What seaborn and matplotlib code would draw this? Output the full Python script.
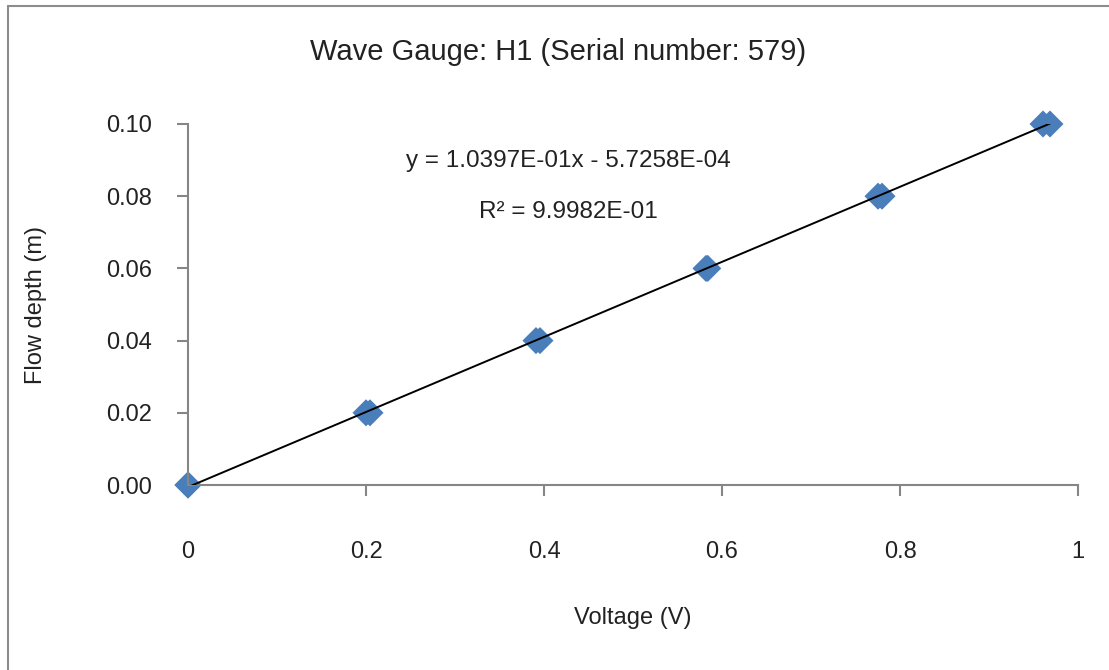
import numpy as np
import pandas as pd
import matplotlib
matplotlib.use("Agg")
import matplotlib.pyplot as plt
from matplotlib.lines import Line2D
import seaborn as sns

# Calibration readings for wave gauge H1 (two runs per depth)
voltage = [0.000, 0.000, 0.200, 0.2045, 0.391, 0.3955, 0.582, 0.584,
           0.7753, 0.7798, 0.9607, 0.9685]
flow_depth = [0.00, 0.00, 0.02, 0.02, 0.04, 0.04, 0.06, 0.06,
              0.08, 0.08, 0.10, 0.10]

# Linear trendline coefficients
slope = 1.0397e-01
intercept = -5.7258e-04
r_squared = 9.9982e-01

x_ticks = [0, 0.2, 0.4, 0.6, 0.8, 1.0]
x_tick_labels = ["0", "0.2", "0.4", "0.6", "0.8", "1"]
y_ticks = [0.00, 0.02, 0.04, 0.06, 0.08, 0.10]
y_tick_labels = ["0.00", "0.02", "0.04", "0.06", "0.08", "0.10"]

sns.set_theme(style="white")
plt.rcParams["font.family"] = ["Liberation Sans", "DejaVu Sans"]

W, H = 1109, 670
fig = plt.figure(figsize=(W / 100, H / 100), dpi=100)
ax = fig.add_axes([188 / W, 1 - 485 / H, (1078 - 188) / W, (485 - 124) / H])

df = pd.DataFrame({"Voltage": voltage, "Depth": flow_depth})

# Fitted line from the stated coefficients
xl = np.array([0.0, max(voltage)])
fit_df = pd.DataFrame({"Voltage": xl, "Depth": slope * xl + intercept})
sns.lineplot(data=fit_df, x="Voltage", y="Depth", ax=ax, color="black",
             linewidth=1.4, zorder=3)

sns.scatterplot(data=df, x="Voltage", y="Depth", ax=ax, marker="D",
                s=190, color="#4a7ebb", edgecolor="none", linewidth=0,
                zorder=2, clip_on=False)

ax.set_xlim(0, 1)
ax.set_ylim(0, 0.10)
ax.set_xticks(x_ticks)
ax.set_xticklabels(x_tick_labels)
ax.set_yticks(y_ticks)
ax.set_yticklabels(y_tick_labels)

axis_grey = "#868686"
for side in ["top", "right"]:
    ax.spines[side].set_visible(False)
for side in ["left", "bottom"]:
    ax.spines[side].set_color(axis_grey)
    ax.spines[side].set_linewidth(1.5)

text_color = "#222222"
ax.tick_params(axis="x", direction="out", length=8, width=1.5, color=axis_grey,
               pad=32, labelsize=17, labelcolor=text_color, bottom=True)
ax.tick_params(axis="y", direction="out", length=8, width=1.5, color=axis_grey,
               pad=18, labelsize=17, labelcolor=text_color, left=True)

ax.set_xlabel("")
ax.set_ylabel("")
fig.text(633 / W, 1 - 618 / H, "Voltage (V)", ha="center", va="center",
         fontsize=17, color=text_color)
fig.text(36 / W, 1 - 305 / H, "Flow depth (m)", ha="center", va="center",
         rotation=90, fontsize=17, color=text_color)

fig.text(558 / W, 1 - 52 / H, "Wave Gauge: H1 (Serial number: 579)",
         ha="center", va="center", fontsize=21, color=text_color)

fig.text(568 / W, 1 - 161 / H, f"y = {slope:.4E}x - {abs(intercept):.4E}",
         ha="center", va="center", fontsize=17.5, color=text_color)
fig.text(568 / W, 1 - 212 / H, f"R² = {r_squared:.4E}",
         ha="center", va="center", fontsize=17.5, color=text_color)

# Chart-area frame
frame_grey = "#8c8c8c"
fig.add_artist(Line2D([8 / W, 8 / W], [0, 1 - 5.5 / H], transform=fig.transFigure,
                      color=frame_grey, linewidth=1.5))
fig.add_artist(Line2D([8 / W, 1], [1 - 5.5 / H, 1 - 5.5 / H], transform=fig.transFigure,
                      color=frame_grey, linewidth=1.5))

fig.savefig("out.png", dpi=100, facecolor="white")
